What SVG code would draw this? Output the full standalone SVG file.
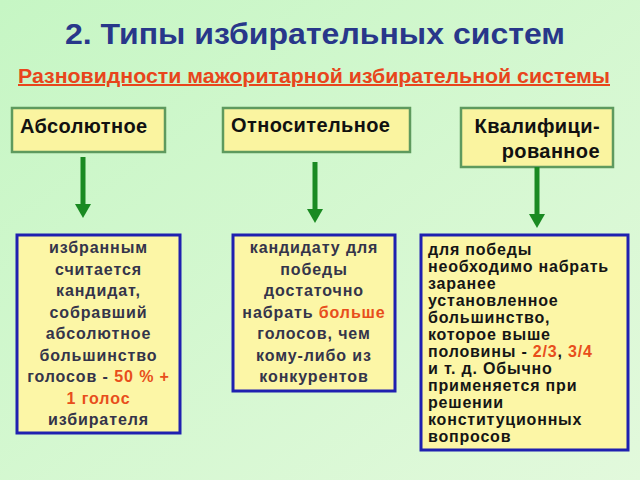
<svg xmlns="http://www.w3.org/2000/svg" width="640" height="480" viewBox="0 0 640 480">
<defs>
<linearGradient id="bg" x1="0" y1="0" x2="1" y2="1">
<stop offset="0" stop-color="#C6F6C4"/>
<stop offset="1" stop-color="#E2F9DC"/>
</linearGradient>
<marker id="ah" markerUnits="userSpaceOnUse" markerWidth="14" markerHeight="16" refX="2" refY="8" orient="auto" viewBox="0 0 14 16">
<path d="M0,0 L14,8 L0,16 Z" fill="#1A8A22"/>
</marker>
<style>
text{font-family:"Liberation Sans",Arial,sans-serif;font-weight:bold}
.title{font-size:30px;fill:#28378A}
.sub{font-size:20px;fill:#E8451C;text-decoration:underline}
.hbox{fill:#FAF4A0;stroke:#5E9A5E;stroke-width:2.5}
.ht{font-size:20px;fill:#111;letter-spacing:0.4px}
.bbox{fill:#FCF6A6;stroke:#1F20B0;stroke-width:3}
.bt{font-size:16px;fill:#34344A;text-anchor:middle;letter-spacing:0.9px}
.ct{font-size:16px;fill:#151515;letter-spacing:0.8px}
.red{fill:#E84E1B}
.arr{stroke:#1A8A22;stroke-width:5;fill:none}
</style>
</defs>
<rect width="640" height="480" fill="url(#bg)"/>
<text class="title" x="315" y="44" text-anchor="middle" textLength="500" lengthAdjust="spacingAndGlyphs">2. Типы избирательных систем</text>
<text class="sub" x="314" y="83" text-anchor="middle" textLength="592" lengthAdjust="spacingAndGlyphs">Разновидности мажоритарной избирательной системы</text>

<g id="node-absolute">
<rect class="hbox" x="12" y="108" width="153" height="44"/>
<text class="ht" x="20" y="133">Абсолютное</text>
</g>
<g id="node-relative">
<rect class="hbox" x="223" y="108" width="187" height="44"/>
<text class="ht" x="231" y="132">Относительное</text>
</g>
<g id="node-qualified">
<rect class="hbox" x="461" y="108" width="152" height="59"/>
<text class="ht" x="600" y="133" text-anchor="end">Квалифици-</text>
<text class="ht" x="600" y="158" text-anchor="end">рованное</text>
</g>

<g id="connectors">
<line class="arr" x1="83" y1="157" x2="83" y2="206" marker-end="url(#ah)"/>
<line class="arr" x1="315" y1="162" x2="315" y2="211" marker-end="url(#ah)"/>
<line class="arr" x1="537" y1="167" x2="537" y2="216" marker-end="url(#ah)"/>
</g>

<g id="node-absolute-desc">
<rect class="bbox" x="17" y="235" width="163" height="198"/>
<text class="bt" x="98.5" y="253">избранным</text>
<text class="bt" x="98.5" y="274.5">считается</text>
<text class="bt" x="98.5" y="296">кандидат,</text>
<text class="bt" x="98.5" y="317.5">собравший</text>
<text class="bt" x="98.5" y="339">абсолютное</text>
<text class="bt" x="98.5" y="360.5">большинство</text>
<text class="bt" x="98.5" y="382">голосов - <tspan class="red">50 % +</tspan></text>
<text class="bt red" x="98.5" y="403.5">1 голос</text>
<text class="bt" x="98.5" y="425">избирателя</text>
</g>

<g id="node-relative-desc">
<rect class="bbox" x="233" y="235" width="162" height="156"/>
<text class="bt" x="314" y="253">кандидату для</text>
<text class="bt" x="314" y="274.5">победы</text>
<text class="bt" x="314" y="296">достаточно</text>
<text class="bt" x="314" y="317.5">набрать <tspan class="red">больше</tspan></text>
<text class="bt" x="314" y="339">голосов, чем</text>
<text class="bt" x="314" y="360.5">кому-либо из</text>
<text class="bt" x="314" y="382">конкурентов</text>
</g>

<g id="node-qualified-desc">
<rect class="bbox" x="421" y="235" width="207" height="215"/>
<text class="ct" x="428" y="255">для победы</text>
<text class="ct" x="428" y="272">необходимо набрать</text>
<text class="ct" x="428" y="289">заранее</text>
<text class="ct" x="428" y="306">установленное</text>
<text class="ct" x="428" y="323">большинство,</text>
<text class="ct" x="428" y="340">которое выше</text>
<text class="ct" x="428" y="357">половины - <tspan class="red">2/3</tspan>, <tspan class="red">3/4</tspan></text>
<text class="ct" x="428" y="374">и т. д. Обычно</text>
<text class="ct" x="428" y="391">применяется при</text>
<text class="ct" x="428" y="408">решении</text>
<text class="ct" x="428" y="425">конституционных</text>
<text class="ct" x="428" y="442">вопросов</text>
</g>
</svg>
